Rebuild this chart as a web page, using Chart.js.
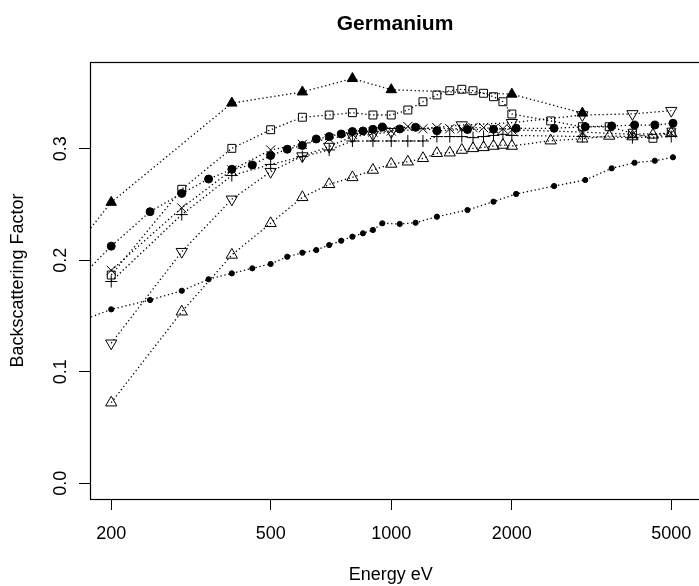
<!DOCTYPE html>
<html>
<head>
<meta charset="utf-8">
<script src="https://cdn.jsdelivr.net/npm/chart.js@4/dist/chart.umd.min.js"></script>
<style>
  html, body { margin: 0; padding: 0; background: #ffffff; }
  #wrap { width: 699px; height: 586px; }
</style>
</head>
<body>
<div id="wrap"><canvas id="c" width="699" height="586"></canvas></div>
<script>
// ---------- data ----------
const chartTitle = "Germanium";
const xAxisTitle = "Energy eV";
const yAxisTitle = "Backscattering Factor";
const xTickValues = [200, 500, 1000, 2000, 5000];
const yTickValues = [0.0, 0.1, 0.2, 0.3];

// filled up-triangles
const energyFilledTri = [100, 200, 400, 600, 800, 1000, 2000, 3000];
const bsfFilledTri    = [0.117, 0.252, 0.341, 0.351, 0.363, 0.353, 0.349, 0.332];

// large filled circles
const energyBigDot = [150, 200, 250, 300, 350, 400, 450, 500, 550, 600, 650, 700, 750, 800, 850, 900, 950, 1050, 1150, 1300, 1550, 1800, 2050, 2550, 3050, 3550, 4050, 4550, 5050];
const bsfBigDot    = [0.167, 0.2127, 0.2436, 0.260, 0.2729, 0.2816, 0.2855, 0.294, 0.2996, 0.303, 0.3088, 0.311, 0.3133, 0.3155, 0.316, 0.3175, 0.3195, 0.3178, 0.3193, 0.3162, 0.3173, 0.3175, 0.3184, 0.3184, 0.3198, 0.3205, 0.3213, 0.3213, 0.3229];

// crosses (x)
const energyCross = [200, 300, 400, 500, 600, 700, 800, 900, 1000, 1100, 1200, 1300, 1400, 1500, 1600, 1700, 1800, 1900, 2000, 3000, 4000, 5000];
const bsfCross    = [0.191, 0.247, 0.281, 0.299, 0.304, 0.309, 0.313, 0.315, 0.316, 0.320, 0.318, 0.319, 0.318, 0.318, 0.319, 0.319, 0.318, 0.318, 0.317, 0.315, 0.313, 0.314];

// plus signs (+)
const energyPlus = [200, 300, 400, 500, 600, 700, 800, 900, 1000, 1100, 1200, 1300, 1400, 1500, 1600, 1700, 1800, 1900, 2000, 3000, 4000, 5000];
const bsfPlus    = [0.181, 0.241, 0.276, 0.286, 0.293, 0.299, 0.307, 0.307, 0.307, 0.307, 0.307, 0.311, 0.311, 0.311, 0.310, 0.311, 0.312, 0.313, 0.312, 0.311, 0.310, 0.311];

// open down-triangles
const energyDownTri = [200, 300, 400, 500, 600, 700, 800, 900, 1000, 1500, 2000, 3000, 4000, 5000];
const bsfDownTri    = [0.1256, 0.2077, 0.2547, 0.2795, 0.2935, 0.302, 0.311, 0.313, 0.3153, 0.3213, 0.3234, 0.3303, 0.3313, 0.3342];

// open up-triangles
const energyUpTri = [200, 300, 400, 500, 600, 700, 800, 900, 1000, 1100, 1200, 1300, 1400, 1500, 1600, 1700, 1800, 1900, 2000, 2500, 3000, 3500, 4000, 4500, 5000];
const bsfUpTri    = [0.0723, 0.1539, 0.2048, 0.2332, 0.2565, 0.2682, 0.2744, 0.281, 0.2864, 0.2884, 0.2915, 0.296, 0.2965, 0.2989, 0.3004, 0.3013, 0.3025, 0.3034, 0.3025, 0.3073, 0.309, 0.3115, 0.311, 0.3125, 0.314];

// open squares
const energySquare = [200, 300, 400, 500, 600, 700, 800, 900, 1000, 1100, 1200, 1300, 1400, 1500, 1600, 1700, 1800, 1900, 2000, 2500, 3000, 3500, 4000, 4500, 5000];
const bsfSquare    = [0.1868, 0.2637, 0.3004, 0.3171, 0.3283, 0.3303, 0.3324, 0.3303, 0.3303, 0.3348, 0.3422, 0.3483, 0.3521, 0.3534, 0.3521, 0.3498, 0.3467, 0.3422, 0.3312, 0.325, 0.3198, 0.3198, 0.314, 0.3094, 0.315];

// small filled dots
const energySmallDot = [150, 200, 250, 300, 350, 400, 450, 500, 550, 600, 650, 700, 750, 800, 850, 900, 950, 1050, 1150, 1300, 1550, 1800, 2050, 2550, 3050, 3550, 4050, 4550, 5050];
const bsfSmallDot    = [0.139, 0.156, 0.1644, 0.1727, 0.183, 0.1883, 0.1928, 0.1967, 0.2032, 0.2068, 0.2092, 0.2137, 0.2176, 0.2212, 0.2242, 0.2272, 0.2332, 0.2326, 0.2337, 0.2391, 0.2451, 0.2526, 0.2595, 0.2666, 0.272, 0.2825, 0.2875, 0.2893, 0.2924];

// ---------- chart ----------
const FONT = "'Liberation Sans', Arial, Helvetica, sans-serif";
const pairs = (xs, ys) => xs.map((x, i) => ({ x: x, y: ys[i] }));

function series(label, xs, ys, style) {
  return Object.assign({
    label: label,
    data: pairs(xs, ys),
    showLine: true,
    borderColor: '#000',
    borderWidth: 1.3,
    borderDash: [1.3, 2.7],
    pointBorderColor: '#000',
    pointBorderWidth: 1,
    pointBackgroundColor: 'rgba(0,0,0,0)',
    clip: 0,
    tension: 0
  }, style);
}

const datasets = [
  series('filled triangles', energyFilledTri, bsfFilledTri, { pointStyle: 'triangle', pointRadius: 6, pointBackgroundColor: '#000' }),
  series('large dots', energyBigDot, bsfBigDot, { pointStyle: 'circle', pointRadius: 4, pointBackgroundColor: '#000' }),
  series('crosses', energyCross, bsfCross, { pointStyle: 'crossRot', pointRadius: 6.5 }),
  series('plus', energyPlus, bsfPlus, { pointStyle: 'cross', pointRadius: 6 }),
  series('down triangles', energyDownTri, bsfDownTri, { pointStyle: 'triangle', pointRotation: 180, pointRadius: 6.5 }),
  series('up triangles', energyUpTri, bsfUpTri, { pointStyle: 'triangle', pointRadius: 6.5 }),
  series('squares', energySquare, bsfSquare, { pointStyle: 'rect', pointRadius: 5.6 }),
  series('small dots', energySmallDot, bsfSmallDot, { pointStyle: 'circle', pointRadius: 2.6, pointBackgroundColor: '#000' })
];

const frame = {
  id: 'frame',
  afterDraw(chart) {
    const ctx = chart.ctx;
    const a = chart.chartArea;
    ctx.save();
    ctx.strokeStyle = '#000';
    ctx.lineWidth = 1.2;
    ctx.strokeRect(Math.round(a.left) + 0.5, Math.round(a.top) + 0.5, 610, Math.round(a.bottom - a.top));
    ctx.fillStyle = '#000';
    ctx.font = 'bold 21px ' + FONT;
    ctx.textAlign = 'center';
    ctx.textBaseline = 'alphabetic';
    ctx.fillText(chartTitle, (a.left + a.left + 610) / 2, 29.5);
    ctx.restore();
  }
};

function fixSize(prop, val) {
  return function (scale) {
    scale[prop] = val;
    scale.paddingLeft = 0; scale.paddingRight = 0;
    scale.paddingTop = 0; scale.paddingBottom = 0;
  };
}

new Chart(document.getElementById('c'), {
  type: 'scatter',
  data: { datasets: datasets },
  plugins: [frame],
  options: {
    responsive: false,
    devicePixelRatio: 1,
    animation: false,
    layout: { padding: { top: 62, left: 0, right: 0, bottom: 0 } },
    plugins: { legend: { display: false }, tooltip: { enabled: false }, title: { display: false } },
    scales: {
      x: {
        type: 'logarithmic',
        bounds: 'data',
        min: 177.03,
        max: 5617,
        afterBuildTicks: (s) => { s.ticks = xTickValues.map(v => ({ value: v })); },
        afterFit: fixSize('height', 87),
        grid: { drawOnChartArea: false, drawTicks: true, tickLength: 11, tickColor: '#000', tickWidth: 1 },
        border: { display: false },
        ticks: { color: '#000', font: { family: FONT, size: 18 }, padding: 13, maxRotation: 0, autoSkip: false, callback: (v) => String(v) },
        title: { display: true, text: xAxisTitle, color: '#000', font: { family: FONT, size: 18 }, padding: { top: 0, bottom: 0 } }
      },
      y: {
        type: 'linear',
        bounds: 'data',
        min: -0.01408,
        max: 0.37785,
        afterBuildTicks: (s) => { s.ticks = yTickValues.map(v => ({ value: v })); },
        afterFit: fixSize('width', 90),
        grid: { drawOnChartArea: false, drawTicks: true, tickLength: 11, tickColor: '#000', tickWidth: 1 },
        border: { display: false },
        ticks: { color: '#000', font: { family: FONT, size: 18 }, padding: 5, minRotation: 90, maxRotation: 90, crossAlign: 'center', autoSkip: false, callback: (v) => Number(v).toFixed(1) },
        title: { display: true, text: yAxisTitle, color: '#000', font: { family: FONT, size: 18 }, padding: { top: 7.5, bottom: 0 } }
      }
    }
  }
});
</script>
</body>
</html>
